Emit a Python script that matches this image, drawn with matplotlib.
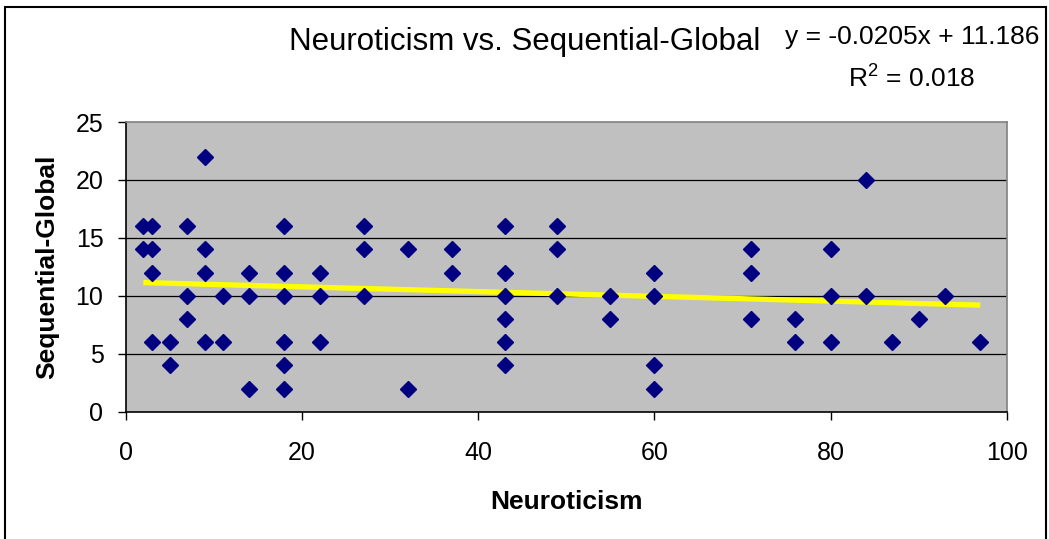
import numpy as np
import matplotlib.pyplot as plt
from matplotlib.patches import Rectangle

# data
neuroticism = [2, 2, 3, 3, 3, 3, 5, 5, 7, 7, 7, 9, 9, 9, 9, 11, 11, 14, 14, 14,
               18, 18, 18, 18, 18, 18, 22, 22, 22, 27, 27, 27, 32, 32, 37, 37,
               43, 43, 43, 43, 43, 43, 49, 49, 49, 55, 55, 60, 60, 60, 60,
               71, 71, 71, 76, 76, 80, 80, 80, 84, 84, 87, 90, 93, 97]
seq_global = [16, 14, 16, 14, 12, 6, 6, 4, 16, 10, 8, 22, 14, 12, 6, 10, 6, 12, 10, 2,
              16, 12, 10, 6, 4, 2, 12, 10, 6, 16, 14, 10, 14, 2, 14, 12,
              16, 12, 10, 8, 6, 4, 16, 14, 10, 10, 8, 12, 10, 4, 2,
              14, 12, 8, 8, 6, 14, 10, 6, 20, 10, 6, 8, 10, 6]
x_ticks = [0, 20, 40, 60, 80, 100]
y_ticks = [0, 5, 10, 15, 20, 25]

# trend line as reported on the chart
trend_slope = -0.0205
trend_icpt = 11.186
eq_text = "y = -0.0205x + 11.186"
r2_text = r"R$^\mathrm{2}$ = 0.018"

plt.rcParams['font.family'] = ['Liberation Sans', 'DejaVu Sans']
plt.rcParams['mathtext.fontset'] = 'custom'
plt.rcParams['mathtext.rm'] = 'Liberation Sans'

W, H = 1049, 539
fig = plt.figure(figsize=(W / 100, H / 100), dpi=100)
ax = fig.add_axes([125.7 / W, 1 - 411.7 / H, 881 / W, 289.7 / H])
ax.set_facecolor('#C0C0C0')

x = np.array(neuroticism, dtype=float)
y = np.array(seq_global, dtype=float)

xt = np.array([x.min(), x.max()])
ax.plot(xt, trend_slope * xt + trend_icpt, color='#FFFF00', lw=3.8, zorder=2,
        solid_capstyle='butt')

ax.plot(x, y, linestyle='none', marker='D', markersize=8, color='#000080', zorder=3)

ax.set_xlim(0, 100)
ax.set_ylim(0, 25)
ax.set_xticks(x_ticks)
ax.set_yticks(y_ticks)
ax.tick_params(axis='both', labelsize=18, direction='out', length=6, width=1, color='black')
ax.tick_params(axis='x', pad=15)
ax.tick_params(axis='y', pad=10)

for v in y_ticks[1:-1]:
    ax.axhline(v, color='black', lw=0.9, zorder=1)

ax.spines['left'].set_color('black')
ax.spines['bottom'].set_color('black')
ax.spines['top'].set_color('#808080')
ax.spines['right'].set_color('#808080')
for s in ax.spines.values():
    s.set_linewidth(1.2)

ax.set_xlabel('Neuroticism', fontsize=19, fontweight='bold')
ax.set_ylabel('Sequential-Global', fontsize=19, fontweight='bold')
ax.xaxis.set_label_coords(0.5, -0.27)
ax.yaxis.set_label_coords(-0.076, 0.5)

fig.text(525 / W, 1 - 42 / H, 'Neuroticism vs. Sequential-Global', fontsize=22.5,
         ha='center', va='center')
fig.text(912 / W, 1 - 37 / H, eq_text, fontsize=19, ha='center', va='center')
fig.text(912 / W, 1 - 78 / H, r2_text, fontsize=19, ha='center', va='center')

# chart area border
fig.add_artist(Rectangle((5 / W, -0.02), (1046 - 5) / W, 1.02 - 7 / H,
                         transform=fig.transFigure, fill=False, edgecolor='black',
                         lw=1.5, clip_on=False))

fig.savefig('out.png', dpi=100)
